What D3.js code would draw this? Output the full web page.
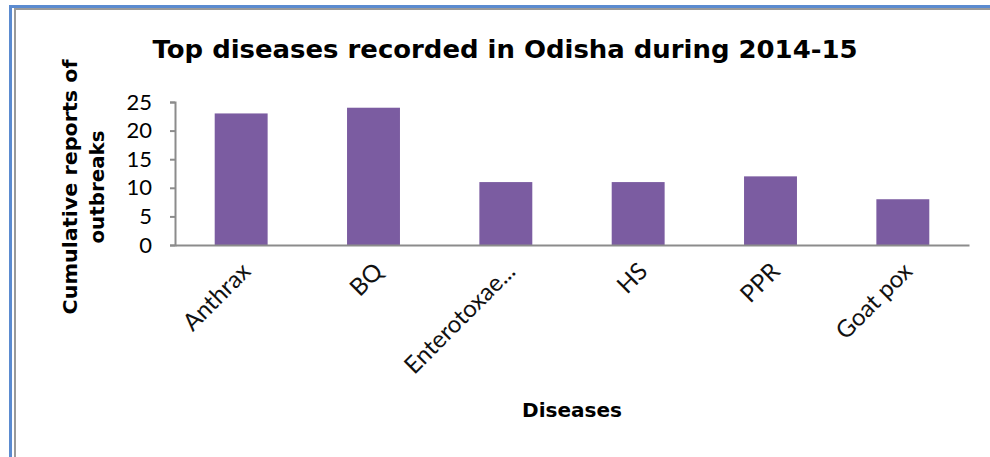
<!DOCTYPE html>
<html>
<head>
<meta charset="utf-8">
<script src="https://cdn.jsdelivr.net/npm/d3@7"></script>
<style>
  body { margin: 0; background: #fff; }
  svg { display: block; }
</style>
</head>
<body>
<div id="chart"></div>
<script>
// data
var diseases = ["Anthrax", "BQ", "Enterotoxae...", "HS", "PPR", "Goat pox"];
var outbreaks = [23, 24, 11, 11, 12, 8];
var yTicks = [0, 5, 10, 15, 20, 25];

var svgWidth = 990;
var svgHeight = 457;

var margin = { top: 102, right: 21, bottom: 212, left: 175 };
var width = svgWidth - margin.left - margin.right;
var height = svgHeight - margin.top - margin.bottom;

var svg = d3.select("#chart").append("svg")
    .attr("width", svgWidth).attr("height", svgHeight);

// frame: blue outer line + grey inner line (left and top)
svg.append("rect").attr("x", 9).attr("y", 5).attr("width", 981).attr("height", 3).attr("fill", "#5b8bd0");
svg.append("rect").attr("x", 9).attr("y", 5).attr("width", 3).attr("height", 452).attr("fill", "#5b8bd0");
svg.append("rect").attr("x", 14).attr("y", 8).attr("width", 976).attr("height", 2).attr("fill", "#9a9a9a");
svg.append("rect").attr("x", 14).attr("y", 8).attr("width", 2).attr("height", 449).attr("fill", "#9a9a9a");

var chartGroup = svg.append("g").attr("transform", `translate(${margin.left}, ${margin.top})`);

var xScale = d3.scaleBand().domain(diseases).range([0, width]).paddingInner(0.6).paddingOuter(0.3);
var yScale = d3.scaleLinear().domain([0, 25]).range([height, 0]);

// bars
chartGroup.selectAll(".bar")
    .data(diseases)
    .enter().append("rect")
    .attr("class", "bar")
    .attr("x", d => xScale(d))
    .attr("width", xScale.bandwidth())
    .attr("y", (d, i) => yScale(outbreaks[i]))
    .attr("height", (d, i) => height - yScale(outbreaks[i]))
    .attr("fill", "#7b5ca1");

// y axis
var leftAxis = d3.axisLeft(yScale).tickValues(yTicks).tickSize(5).tickSizeOuter(5).tickPadding(18);
var yAxisG = chartGroup.append("g").call(leftAxis);
yAxisG.selectAll("path, line").attr("stroke", "#8c8c8c").attr("stroke-width", 2);
yAxisG.selectAll("text").attr("font-family", "Lato, 'Open Sans', sans-serif").attr("font-size", 22).attr("fill", "#000");

// x axis
var bottomAxis = d3.axisBottom(xScale).tickSize(0).tickPadding(0);
var xAxisG = chartGroup.append("g").attr("transform", `translate(0, ${height})`).call(bottomAxis);
xAxisG.select("path").attr("stroke", "#8c8c8c").attr("stroke-width", 2);
xAxisG.selectAll("text")
    .attr("font-family", "Lato, 'Open Sans', sans-serif")
    .attr("font-size", 24)
    .attr("fill", "#111")
    .attr("text-anchor", "end")
    .attr("dy", "0.7em")
    .attr("transform", "translate(-1, 16) rotate(-45)");

// title
svg.append("text")
    .attr("x", 505).attr("y", 58)
    .attr("text-anchor", "middle")
    .attr("font-family", "'DejaVu Sans', sans-serif")
    .attr("font-weight", "bold")
    .attr("font-size", 25)
    .attr("textLength", 705)
    .attr("lengthAdjust", "spacingAndGlyphs")
    .text("Top diseases recorded in Odisha during 2014-15");

// y axis title (two lines)
var yLabel = svg.append("text")
    .attr("transform", "translate(77, 187) rotate(-90)")
    .attr("text-anchor", "middle")
    .attr("font-family", "'DejaVu Sans', sans-serif")
    .attr("font-weight", "bold")
    .attr("font-size", 20);
yLabel.append("tspan").attr("x", 0).attr("y", 0).attr("textLength", 255).attr("lengthAdjust", "spacingAndGlyphs").text("Cumulative reports of");
yLabel.append("tspan").attr("x", 0).attr("y", 27).attr("textLength", 113).attr("lengthAdjust", "spacingAndGlyphs").text("outbreaks");

// x axis title
svg.append("text")
    .attr("x", 572).attr("y", 417)
    .attr("text-anchor", "middle")
    .attr("font-family", "'DejaVu Sans', sans-serif")
    .attr("font-weight", "bold")
    .attr("font-size", 20)
    .attr("textLength", 100)
    .attr("lengthAdjust", "spacingAndGlyphs")
    .text("Diseases");
</script>
</body>
</html>
